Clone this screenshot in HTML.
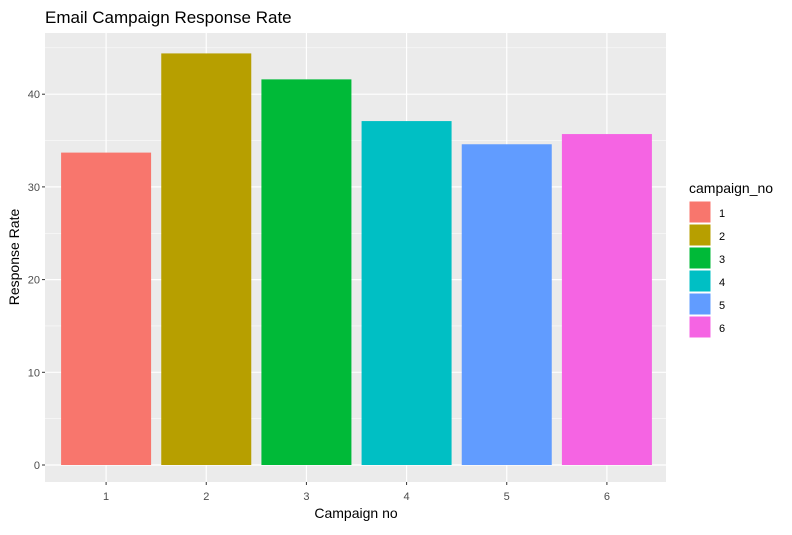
<!DOCTYPE html>
<html><head><meta charset="utf-8"><style>
body{margin:0;background:#fff;font-family:"Liberation Sans",Arial,sans-serif}
</style></head><body>
<svg id="c" width="792" height="530" xmlns="http://www.w3.org/2000/svg" font-family="Liberation Sans, Arial, sans-serif">
<text x="45" y="23" font-size="17" fill="#000">Email Campaign Response Rate</text>
<rect x="45" y="33" width="621" height="449" fill="#EBEBEB"/>
<g id="grid"></g><g id="bars"></g><g id="axes"></g><g id="legend"></g>
<text x="356" y="518" font-size="14" text-anchor="middle">Campaign no</text>
<text transform="translate(19,257) rotate(-90)" font-size="14" text-anchor="middle">Response Rate</text>
</svg>
<script>
const categories=["1","2","3","4","5","6"];
const values=[33.7,44.4,41.6,37.1,34.6,35.7];
const colors=["#F8766D","#B79F00","#00BA38","#00BFC4","#619CFF","#F564E3"];
const yTicks=[0,10,20,30,40];
const ns="http://www.w3.org/2000/svg";
const X0=45,X1=666,Y0=482;
const y=v=>465-v*9.27;
const x=i=>X0+1+(i+0.6)*((X1-X0)/6.2);
const bw=90;
function mk(t,a,p){const e=document.createElementNS(ns,t);for(const k in a)e.setAttribute(k,a[k]);p.appendChild(e);return e;}
const grid=document.getElementById('grid'),bars=document.getElementById('bars'),axes=document.getElementById('axes'),leg=document.getElementById('legend');
for(let k=0;k<yTicks.length;k++){
  const v=yTicks[k];
  const l=mk('line',{x1:X0,x2:X1,y1:y(v),y2:y(v),stroke:'#fff','stroke-width':1.2},grid);
  
  
  if(k<yTicks.length-1){const m=mk('line',{x1:X0,x2:X1,y1:y(v+5),y2:y(v+5),stroke:'#fff','stroke-width':0.5},grid);
  
  }
  const t=mk('text',{x:40,y:y(v)+4,'font-size':11,fill:'#4D4D4D','text-anchor':'end'},axes);
  t.textContent=v;
  
  
  mk('line',{x1:42,x2:45,y1:y(v),y2:y(v),stroke:'#333'},axes);
}
{const m=mk('line',{x1:X0,x2:X1,y1:y(45),y2:y(45),stroke:'#fff','stroke-width':0.5},grid);

}
categories.forEach((c,i)=>{
  const cx=x(i);
  const g=mk('line',{x1:cx,x2:cx,y1:33,y2:Y0,stroke:'#fff','stroke-width':1.2},grid);
  
  
  const r=mk('rect',{x:cx-bw/2,y:y(values[i]),width:bw,height:y(0)-y(values[i]),fill:colors[i]},bars);
  
  
  mk('line',{x1:cx,x2:cx,y1:Y0,y2:Y0+3,stroke:'#333'},axes);
  const t=mk('text',{x:cx,y:500,'font-size':11,fill:'#4D4D4D','text-anchor':'middle'},axes);
  t.textContent=c;
  
  
  const k=mk('rect',{x:689,y:201+i*23,width:22,height:22,fill:colors[i],stroke:'#fff'},leg);
  
  
  const lt=mk('text',{x:719,y:217+i*23,'font-size':11,fill:'#000'},leg);
  lt.textContent=c;
  
  
});
const lt=mk('text',{x:689,y:193,'font-size':14,fill:'#000'},leg);
lt.textContent='campaign_no';


</script>
</body></html>
